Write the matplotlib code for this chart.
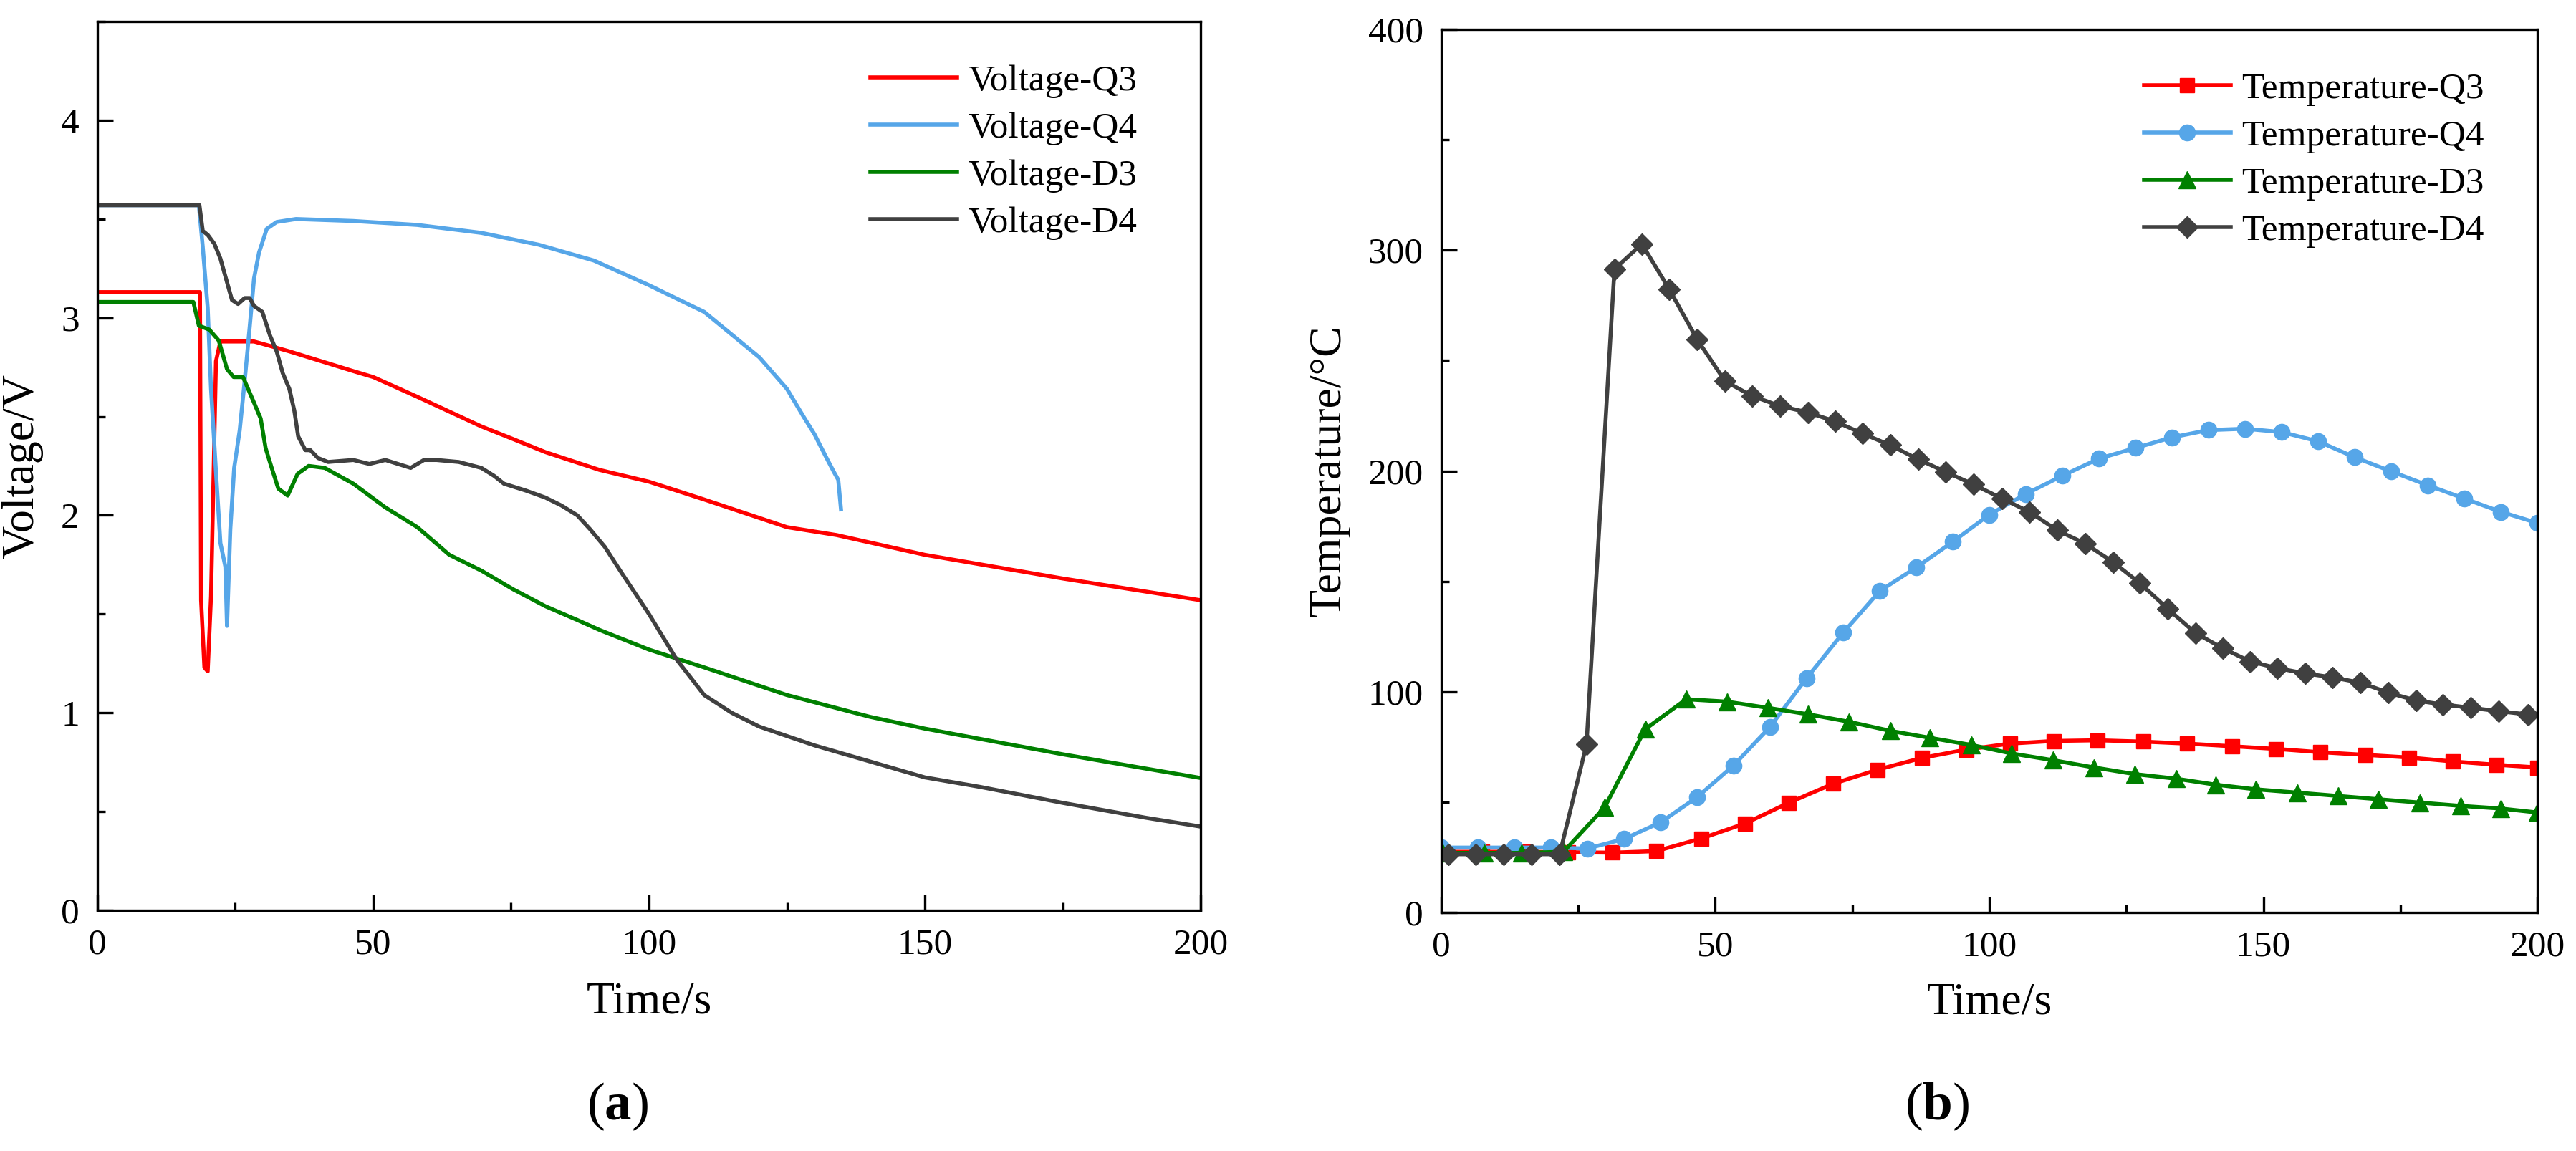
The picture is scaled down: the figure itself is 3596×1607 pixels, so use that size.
import matplotlib
matplotlib.use("Agg")
import matplotlib.pyplot as plt
from matplotlib.ticker import MultipleLocator

plt.rcParams['font.family'] = ['Liberation Serif', 'DejaVu Serif']
plt.rcParams['mathtext.fontset'] = 'custom'
plt.rcParams['mathtext.rm'] = 'Liberation Serif'
plt.rcParams['mathtext.bf'] = 'Liberation Serif:bold'

# %% (a) voltage curves
t_vq3 = [0, 18.6, 18.8, 19.4, 20.0, 20.6, 21.5, 22.3, 28.4, 31, 34.8, 40.6, 46.4, 50,
         58, 69.6, 75, 81.2, 91, 100, 110, 125, 134, 150, 175, 200]
v_q3 = [3.13, 3.13, 1.57, 1.23, 1.21, 1.59, 2.78, 2.88, 2.88, 2.86, 2.83, 2.78, 2.73, 2.70,
        2.60, 2.45, 2.39, 2.32, 2.23, 2.17, 2.08, 1.94, 1.90, 1.80, 1.68, 1.57]

t_vq4 = [0, 18.4, 19.1, 20, 20.6, 21.5, 22.3, 23.2, 23.5, 24.1, 24.8, 25.8, 26.7, 27.6,
         28.4, 29.3, 30.7, 32.5, 36, 46.4, 58, 69.6, 80, 90, 100, 110, 120, 125, 128,
         130, 132, 133.5, 134.3, 134.8]
v_q4 = [3.57, 3.57, 3.36, 3.05, 2.64, 2.22, 1.86, 1.74, 1.44, 1.93, 2.24, 2.43, 2.68, 2.95,
        3.20, 3.33, 3.45, 3.485, 3.50, 3.49, 3.47, 3.43, 3.37, 3.29, 3.165, 3.03, 2.80, 2.64,
        2.50, 2.41, 2.30, 2.22, 2.18, 2.03]

t_vd3 = [0, 17.4, 18.4, 20.3, 22, 23.5, 24.7, 26.4, 28.4, 29.6, 30.5, 31.6, 32.8, 34.5,
         36.3, 38.3, 41.2, 46.4, 52.2, 58, 63.8, 69.6, 75.4, 81.2, 87, 91, 100, 110, 125,
         140, 150, 175, 200]
v_d3 = [3.08, 3.08, 2.96, 2.94, 2.885, 2.74, 2.70, 2.70, 2.57, 2.49, 2.34, 2.24, 2.135, 2.10,
        2.21, 2.25, 2.24, 2.16, 2.04, 1.94, 1.80, 1.72, 1.625, 1.54, 1.47, 1.42, 1.32, 1.23,
        1.09, 0.98, 0.92, 0.79, 0.67]

t_vd4 = [0, 18.5, 19.1, 20, 21.2, 22.3, 23.2, 24.4, 25.5, 26.7, 27.6, 28.4, 29.9, 31.3,
         32.5, 33.6, 34.8, 35.7, 36.4, 37.7, 38.6, 40, 41.8, 46.4, 49.3, 52.2, 56.8, 59.2,
         61.5, 65.5, 69.6, 71.9, 73.7, 77.7, 81.2, 84.1, 87, 89.3, 92, 95, 100, 105, 110,
         115, 120, 130, 140, 150, 160, 175, 190, 200]
v_d4 = [3.57, 3.57, 3.44, 3.42, 3.375, 3.30, 3.21, 3.09, 3.07, 3.10, 3.10, 3.06, 3.03, 2.91,
        2.83, 2.72, 2.64, 2.53, 2.40, 2.33, 2.33, 2.29, 2.27, 2.28, 2.26, 2.28, 2.24, 2.28,
        2.28, 2.27, 2.24, 2.20, 2.16, 2.125, 2.09, 2.05, 2.00, 1.93, 1.84, 1.71, 1.50, 1.27,
        1.09, 1.00, 0.93, 0.835, 0.754, 0.673, 0.625, 0.544, 0.469, 0.424]

# %% (b) temperature curves
t_tq3 = [0, 7.5, 15.3, 23.2, 31.3, 39.2, 47.4, 55.4, 63.4, 71.5, 79.6, 87.7, 95.8, 103.8,
         111.8, 119.8, 128.1, 136.1, 144.3, 152.3, 160.4, 168.6, 176.6, 184.6, 192.6, 200]
temp_q3 = [27.5, 27.5, 27.5, 27.3, 27.1, 27.8, 33.5, 40.3, 49.7, 58.3, 64.7, 70, 73.8, 76.5,
           77.7, 78, 77.4, 76.5, 75.3, 74.1, 72.6, 71.4, 70.2, 68.4, 66.9, 65.7]

t_tq4 = [0, 6.67, 13.33, 20, 26.67, 33.33, 40, 46.67, 53.33, 60, 66.67, 73.33, 80, 86.67,
         93.33, 100, 106.67, 113.33, 120, 126.67, 133.33, 140, 146.67, 153.33, 160, 166.67,
         173.33, 180, 186.67, 193.33, 200]
temp_q4 = [29.4, 29.4, 29.4, 29.4, 29, 33.3, 40.8, 52.2, 66.6, 84.1, 106.2, 126.7, 145.6,
           156.3, 167.9, 180.2, 189.6, 197.8, 205.6, 210.4, 215.2, 218.5, 219.1, 217.6,
           213.4, 206.2, 199.8, 193.5, 187.5, 181.5, 176.4]

t_td3 = [0.3, 7.9, 14.7, 22.3, 29.8, 37.2, 44.7, 52.1, 59.6, 66.9, 74.4, 81.9, 89.2, 96.7,
         104.1, 111.6, 119.1, 126.5, 134.1, 141.3, 148.6, 156.2, 163.6, 171, 178.5, 186,
         193.3, 200]
temp_d3 = [27, 27, 27, 27.5, 47.6, 83, 96.6, 95.5, 92.7, 89.8, 86.4, 82.3, 79.1, 75.9,
           72, 69, 65.7, 62.7, 60.6, 57.9, 55.8, 54.3, 52.8, 51.3, 49.8, 48.3, 47.1, 45.3]

t_td4 = [1.3, 6.3, 11.4, 16.5, 21.6, 26.5, 31.6, 36.6, 41.6, 46.7, 51.8, 56.7, 61.8, 66.9,
         71.9, 76.9, 81.9, 87.0, 92.0, 97.1, 102.3, 107.3, 112.4, 117.5, 122.6, 127.5,
         132.5, 137.6, 142.6, 147.6, 152.5, 157.6, 162.6, 167.7, 172.8, 177.9, 182.8,
         187.9, 192.9, 198.3]
temp_d4 = [26.4, 26.4, 26.4, 26.4, 26.4, 76.1, 291.4, 302.8, 282.3, 259.5, 240.6, 234,
           229.4, 226.5, 222.4, 216.9, 211.7, 205.3, 199.6, 193.9, 187.5, 181.5, 173.1,
           167.1, 158.7, 149.1, 137.7, 126.6, 119.7, 113.7, 110.7, 108.3, 106.5, 104.1,
           99.6, 96, 94.2, 92.7, 91.2, 89.7]

red = '#FF0000'
blue = '#56A6E8'
green = '#008000'
gray = '#404040'

fig = plt.figure(figsize=(35.96, 16.07), dpi=100)
ax1 = fig.add_axes([0.0378, 0.2091, 0.4283, 0.7722])
ax2 = fig.add_axes([0.5595, 0.2072, 0.4255, 0.7673])

lw = 4
ax1.plot(t_vq3, v_q3, color=red, lw=lw, label='Voltage-Q3')
ax1.plot(t_vq4, v_q4, color=blue, lw=lw, label='Voltage-Q4')
ax1.plot(t_vd3, v_d3, color=green, lw=lw, label='Voltage-D3')
ax1.plot(t_vd4, v_d4, color=gray, lw=lw, label='Voltage-D4')

ax2.plot(t_tq3, temp_q3, color=red, lw=lw, marker='s', ms=15, label='Temperature-Q3')
ax2.plot(t_tq4, temp_q4, color=blue, lw=lw, marker='o', ms=16, label='Temperature-Q4')
ax2.plot(t_td3, temp_d3, color=green, lw=lw, marker='^', ms=17, label='Temperature-D3')
ax2.plot(t_td4, temp_d4, color=gray, lw=lw, marker='D', ms=15, label='Temperature-D4')

ax1.set_xlim(0, 200)
ax1.set_ylim(0, 4.5)
ax1.yaxis.set_major_locator(MultipleLocator(1))
ax1.yaxis.set_minor_locator(MultipleLocator(0.5))
ax2.set_xlim(0, 200)
ax2.set_ylim(0, 400)
ax2.yaxis.set_major_locator(MultipleLocator(100))
ax2.yaxis.set_minor_locator(MultipleLocator(50))

for ax in (ax1, ax2):
    ax.xaxis.set_major_locator(MultipleLocator(50))
    ax.xaxis.set_minor_locator(MultipleLocator(25))
    ax.tick_params(which='major', direction='in', length=16, width=2.4,
                   labelsize=37, pad=18, top=False, right=False)
    ax.tick_params(which='minor', direction='in', length=8, width=2.4,
                   top=False, right=False)
    for sp in ax.spines.values():
        sp.set_linewidth(2.4)

ax1.set_xlabel('Time/s', fontsize=46, va='baseline')
ax1.xaxis.set_label_coords(0.5, -0.116)
ax1.set_ylabel('Voltage/V', fontsize=46)
ax1.yaxis.set_label_coords(-0.049, 0.5)
ax2.set_xlabel('Time/s', fontsize=46, va='baseline')
ax2.xaxis.set_label_coords(0.5, -0.1144)
ax2.set_ylabel('Temperature/°C', fontsize=46)
ax2.yaxis.set_label_coords(-0.083, 0.5)

leg_kw = dict(frameon=False, fontsize=37, loc='upper left', borderpad=0,
              handlelength=2.35, handletextpad=0.3, labelspacing=0.37,
              borderaxespad=0)
ax1.legend(bbox_to_anchor=(0.7006, 0.9517), **leg_kw)
ax2.legend(bbox_to_anchor=(0.641, 0.9515), **leg_kw)

fig.text(862 / 3596, 1 - 1563 / 1607, r'($\mathbf{a}$)', fontsize=54,
         ha='center', va='baseline')
fig.text(2704 / 3596, 1 - 1563 / 1607, r'($\mathbf{b}$)', fontsize=54,
         ha='center', va='baseline')

fig.savefig('out.png', dpi=100)
